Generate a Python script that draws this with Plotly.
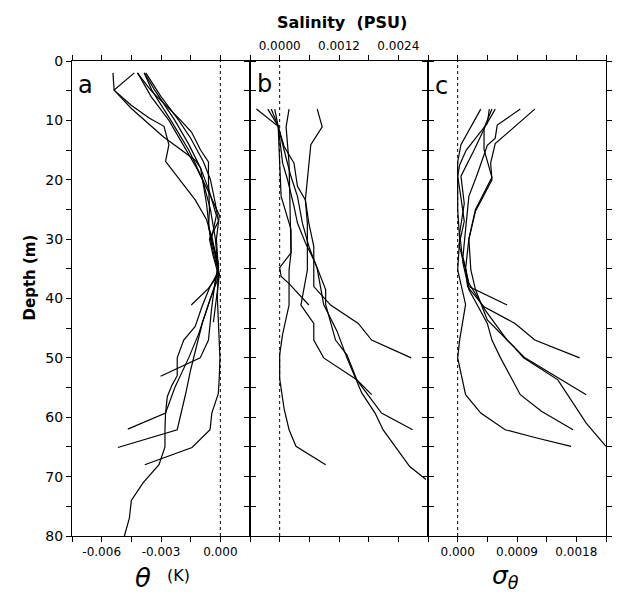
import plotly.graph_objects as go
from plotly.subplots import make_subplots

# ---------------- data ----------------
# panel a: potential temperature anomaly (K) vs depth (m)
a1_depth = [2, 5, 10, 15, 17, 20, 25, 30, 35.5, 38, 41.4, 44.7, 47, 50, 53, 54.5, 56.5, 59.3, 62, 65, 68, 71, 74, 77, 80]
a1_theta = [-0.00385, -0.00345, -0.0025, -0.0016, -0.0013, -0.0009, -0.0005, -0.00025, -0.0001, -0.00052, -0.00093,
            -0.00127, -0.00185, -0.00218, -0.00218, -0.00243, -0.00268, -0.00277, -0.0028, -0.0028, -0.0031, -0.0039,
            -0.0045, -0.0046, -0.00485]
a2_depth = [2, 4.9, 7.4, 9.6, 11, 14.1, 16.9, 19.4, 23.4, 26.7, 30, 35, 38, 42, 46, 50, 55, 59.3, 62]
a2_theta = [-0.00543, -0.00537, -0.00452, -0.0036, -0.00285, -0.0026, -0.00277, -0.00218, -0.00127, -0.0007, -0.0004,
            -0.0001, -0.0003, -0.0007, -0.0011, -0.0016, -0.0023, -0.00277, -0.00468]
a3_depth = [2, 4.9, 8, 12.7, 16.7, 18, 20, 24, 27, 30, 33, 36, 40, 44, 48, 52, 56, 59, 62.1, 65.1]
a3_theta = [-0.00435, -0.00537, -0.0045, -0.0029, -0.00127, -0.001, -0.0009, -0.0007, -0.0006, -0.0005, -0.0003,
            -0.00005, -0.0005, -0.0009, -0.0012, -0.0015, -0.00175, -0.00195, -0.00218, -0.00518]
a4_depth = [2, 6, 10, 14, 18, 22, 26, 30, 35, 40, 45, 50, 53, 56, 59.3, 62.1, 65.1, 68]
a4_theta = [-0.00418, -0.0035, -0.0026, -0.0019, -0.0012, -0.0006, -0.00005, -0.0002, -0.0001, -0.00015, -0.0001,
            -0.00002, -0.00005, -0.0001, -0.00043, -0.00052, -0.00143, -0.00382]
a5_depth = [2, 5, 10, 14, 18, 22, 26, 30, 34, 38, 42, 47, 50, 53.1]
a5_theta = [-0.00385, -0.0033, -0.0023, -0.0016, -0.001, -0.00055, -0.0002, -0.00045, -0.0001, -0.0003, -0.00045,
            -0.0006, -0.00102, -0.00302]
a6_depth = [2, 6, 10, 13, 17, 20, 24, 27, 30, 33, 36, 38.3, 41.1]
a6_theta = [-0.00377, -0.003, -0.0021, -0.0015, -0.00085, -0.0005, -0.00025, -0.0001, -0.00055, -0.00035, -0.0001,
            -0.0006, -0.00147]
a7_depth = [2, 5, 10, 12, 15, 17, 20, 25, 28, 32, 36, 40, 44]
a7_theta = [-0.0042, -0.0035, -0.002, -0.00145, -0.001, -0.0006, -0.0006, -0.00055, -0.0006, -0.0003, -0.00005,
            -0.0002, -0.00035]

# panel b: salinity anomaly (PSU)
b1_depth = [8.1, 11.1, 14.1, 17.2, 23.4, 27.3, 34, 35.2, 41.1, 44.2, 47, 50, 53.7, 56.2]
b1_sal = [0.00076, 0.00086, 0.00063, 0.00059, 0.00052, 0.00056, 0.00056, 0.00056, 0.00043, 0.00069, 0.00069,
          0.00089, 0.00156, 0.00186]
b2_depth = [8.1, 11, 14.4, 17.2, 21.1, 23.4, 27.3, 31.2, 38, 41.1, 44.2, 47, 50]
b2_sal = [-0.00047, -0.00003, 0.00009, 0.00029, 0.00036, 0.00052, 0.00059, 0.00069, 0.00069, 0.00103, 0.00159,
          0.00186, 0.00266]
b3_depth = [8.1, 11, 17.2, 20, 24.5, 27.3, 30.6, 34, 38.5, 41, 47, 49.5, 53.7, 59.3, 62.1]
b3_sal = [-0.00024, -0.00003, 0.00006, 0.00016, 0.00029, 0.00036, 0.00052, 0.00072, 0.00093, 0.00093, 0.00113,
          0.00136, 0.00156, 0.00206, 0.00269]
b4_depth = [8.1, 11, 16, 19.5, 22.8, 27.3, 31.2, 35, 41, 45.5, 50, 55.9, 59.3, 62.1, 68.3, 70.5]
b4_sal = [-0.00017, -0.00003, 0.00012, 0.00023, 0.00036, 0.00046, 0.00059, 0.00076, 0.00089, 0.00116, 0.00136,
          0.00166, 0.00193, 0.00209, 0.00263, 0.00296]
b5_depth = [8.1, 11.1, 17.2, 32.3, 35.2, 41.1, 46, 49.5, 53.5, 58.6, 62.1, 64.9, 68]
b5_sal = [0.00019, 0.00013, 0.00019, 0.00023, 0.00019, 0.00019, 0.00006, 0.0, 0.0, 0.00009, 0.00019, 0.00033, 0.00093]
b6_depth = [8.1, 11, 17.2, 22.8, 28.4, 32.3, 34.8, 36.3, 37.5, 41.1]
b6_sal = [-0.0001, -0.00003, 0.0, 0.00003, 0.00023, 0.00023, 0.0, 0.00003, 0.00019, 0.00059]

# panel c: sigma-theta anomaly
c1_depth = [8.1, 12, 14.1, 17, 19.4, 23, 27, 31, 35.2, 38, 41.1]
c1_sig = [0.00035, 0.00015, 0.00005, 0.0, 0.0, 0.00005, 0.0001, 0.00002, 0.000125, 0.00017, 0.00075]
c2_depth = [8.1, 10.5, 15, 17.5, 19.4, 25, 30, 35.2, 41, 47, 50, 56.2, 59.3, 62.1, 63.5, 64.9]
c2_sig = [0.00048, 0.00045, 0.00013, 0.00003, 0.0, 0.0, 0.00003, 0.0, 0.00012, 0.00003, 0.0, 0.00012, 0.00035,
          0.00072, 0.0012, 0.00172]
c3_depth = [8.1, 13.9, 17.2, 20, 25.3, 30, 35, 38, 41.4, 44.2, 47, 50]
c3_sig = [0.00117, 0.00057, 0.0005, 0.00052, 0.00027, 0.00017, 0.00012, 0.00015, 0.0004, 0.00087, 0.00117, 0.00185]
c4_depth = [8.1, 10.8, 13, 14.2, 19, 22.8, 28.4, 33, 37.4, 42, 47, 50, 56.2]
c4_sig = [0.00095, 0.0006, 0.00057, 0.00045, 0.0003, 0.00017, 0.00012, 0.00008, 0.00017, 0.00042, 0.00075, 0.00102,
          0.00195]
c5_depth = [8.1, 11, 15, 19.4, 24, 29, 34, 38.5, 44.2, 47, 50, 56.2, 59, 62.1]
c5_sig = [0.00057, 0.00042, 0.00025, 0.00005, 0.0001, 0.00003, 0.00008, 0.00017, 0.00045, 0.00052, 0.00065, 0.00095,
          0.00127, 0.00175]
c6_depth = [8.1, 11.3, 14.9, 19.6, 25, 30, 35.2, 38.5, 43.6, 48.1, 50, 53.7, 61, 64.9]
c6_sig = [0.00052, 0.0004, 0.0004, 0.00052, 0.00027, 0.00017, 0.0002, 0.00027, 0.00045, 0.00085, 0.001, 0.00152,
          0.00195, 0.00225]

# axis ticks
depth_ticks = [0, 5, 10, 15, 20, 25, 30, 35, 40, 45, 50, 55, 60, 65, 70, 75, 80]
depth_labels = ["0", "", "10", "", "20", "", "30", "", "40", "", "50", "", "60", "", "70", "", "80"]
theta_ticks = [-0.0075, -0.006, -0.0045, -0.003, -0.0015, 0.0, 0.0015]
theta_labels = ["", "-0.006", "", "-0.003", "", "0.000", ""]
sal_ticks = [-0.0006, 0.0, 0.0006, 0.0012, 0.0018, 0.0024, 0.003]
sal_labels = ["", "0.0000", "", "0.0012", "", "0.0024", ""]
sig_ticks = [-0.00045, 0.0, 0.00045, 0.0009, 0.00135, 0.0018, 0.00225]
sig_labels = ["", "0.000", "", "0.0009", "", "0.0018", ""]

panels = [
    [(a1_theta, a1_depth), (a2_theta, a2_depth), (a3_theta, a3_depth), (a4_theta, a4_depth),
     (a5_theta, a5_depth), (a6_theta, a6_depth), (a7_theta, a7_depth)],
    [(b1_sal, b1_depth), (b2_sal, b2_depth), (b3_sal, b3_depth), (b4_sal, b4_depth),
     (b5_sal, b5_depth), (b6_sal, b6_depth)],
    [(c1_sig, c1_depth), (c2_sig, c2_depth), (c3_sig, c3_depth), (c4_sig, c4_depth),
     (c5_sig, c5_depth), (c6_sig, c6_depth)],
]

FONT = "DejaVu Sans"

fig = make_subplots(rows=1, cols=3, shared_yaxes=True, horizontal_spacing=0)

for col, profiles in enumerate(panels, start=1):
    for xs, ys in profiles:
        fig.add_trace(go.Scatter(x=xs, y=ys, mode="lines", line=dict(color="black", width=1.2),
                                 showlegend=False, hoverinfo="skip"), row=1, col=col)
    fig.add_vline(x=0, line=dict(color="black", width=1, dash="dot"), row=1, col=col)

axis_style = dict(showline=True, linecolor="black", linewidth=1.1, mirror="ticks", ticks="outside",
                  ticklen=5, tickwidth=1, tickcolor="black", showgrid=False, zeroline=False,
                  tickfont=dict(family=FONT, size=12, color="black"))

fig.update_xaxes(**axis_style)
fig.update_yaxes(**axis_style)

fig.update_xaxes(range=[-0.0075, 0.0015], tickmode="array", tickvals=theta_ticks, ticktext=theta_labels, row=1, col=1)
fig.update_xaxes(range=[-0.0006, 0.003], tickmode="array", tickvals=sal_ticks, ticktext=sal_labels, side="top",
                 row=1, col=2)
fig.update_xaxes(range=[-0.00045, 0.00225], tickmode="array", tickvals=sig_ticks, ticktext=sig_labels, row=1, col=3)
fig.update_yaxes(range=[80, 0], tickmode="array", tickvals=depth_ticks, ticktext=depth_labels,
                 tickfont=dict(family=FONT, size=14, color="black"))

annots = [
    dict(text="<b>Salinity  (PSU)</b>", x=0.5056, y=1.082, font=dict(size=16)),
    dict(text="<b>Depth (m)</b>", x=-0.078, y=0.545, textangle=-90, font=dict(size=15)),
    dict(text="<i>θ</i>", x=0.133, y=-0.088, font=dict(size=26)),
    dict(text="(K)", x=0.2, y=-0.084, font=dict(size=16)),
    dict(text="<i>σ<sub>θ</sub></i>", x=0.811, y=-0.086, font=dict(size=25)),
    dict(text="a", x=0.026, y=0.949, font=dict(size=24)),
    dict(text="b", x=0.361, y=0.952, font=dict(size=24)),
    dict(text="c", x=0.6926, y=0.947, font=dict(size=24)),
]
for an in annots:
    an.update(xref="paper", yref="paper", showarrow=False, xanchor="center", yanchor="middle")
    an["font"].update(family=FONT, color="black")
    fig.add_annotation(**an)

fig.update_layout(width=617, height=595, margin=dict(l=72, r=5, t=61, b=59),
                  paper_bgcolor="white", plot_bgcolor="white",
                  font=dict(family=FONT, color="black"))

# drop the browser's default 8 px body margin so the figure sits at the window's corner
fig.write_html("out.html", config={"displayModeBar": False},
               post_script="document.body.style.margin='0px';")
